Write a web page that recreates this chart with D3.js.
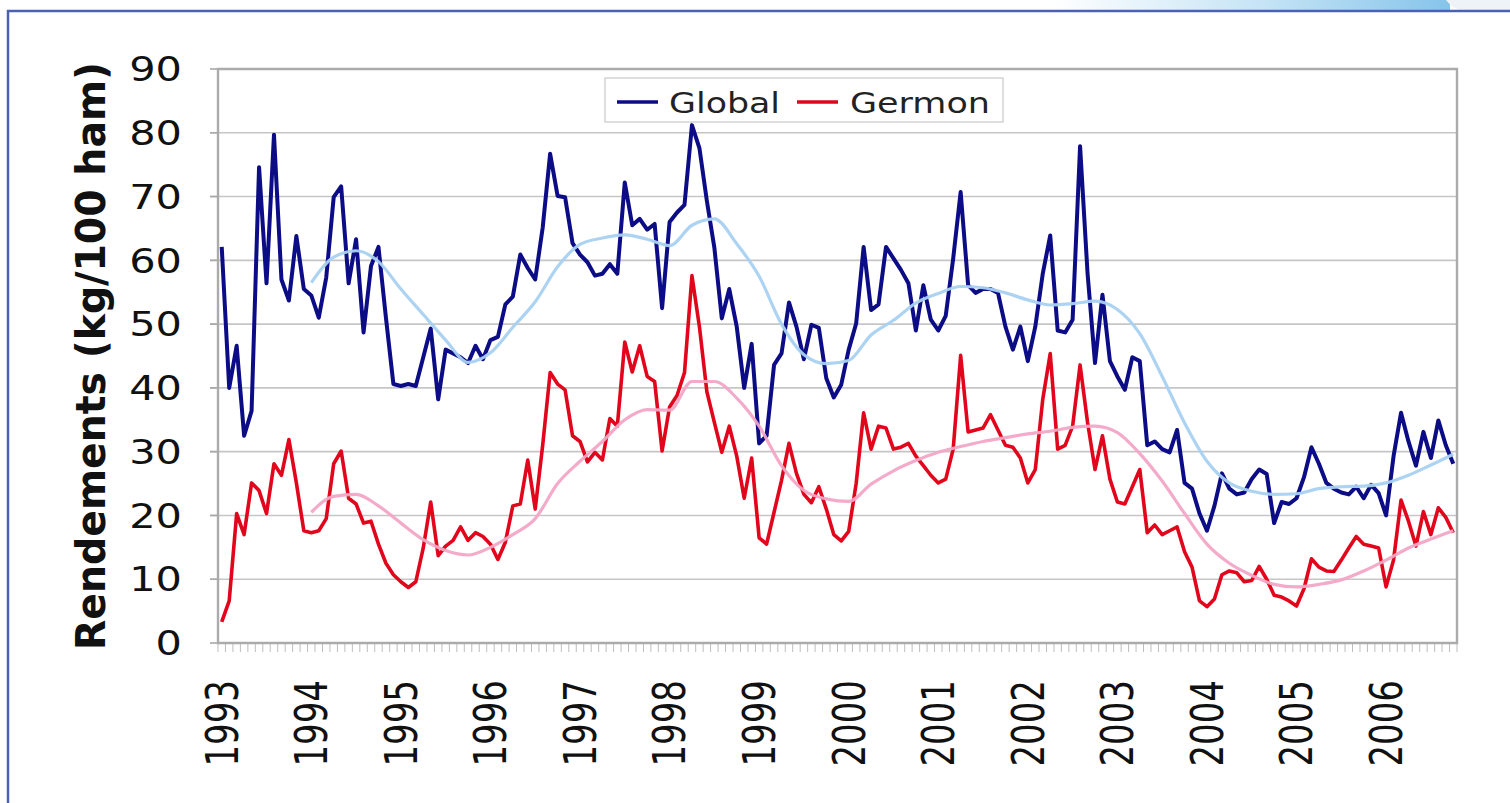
<!DOCTYPE html>
<meta charset="utf-8">
<head>
  <title>Rendements Global / Germon 1993-2006</title>
</head>

<style>
body {
  margin: 0;
  background: white;
}
svg {
  display: block;
}
text {
  font-family: "DejaVu Sans", Verdana, sans-serif;
  fill: #111;
}
</style>

<body>
<div id="chart"></div>

<script src="https://cdnjs.cloudflare.com/ajax/libs/d3/7.8.5/d3.min.js"></script>
<script>
// monthly values, Jan 1993 .. Oct 2006
var globalValues = [
  62.1, 40, 46.6, 32.5, 36.4, 74.6, 56.4, 79.7, 57, 53.7, 63.8, 55.5,
  54.5, 51, 57.3, 69.9, 71.6, 56.4, 63.3, 48.7, 59.1, 62.1, 51, 40.6,
  40.3, 40.6, 40.3, 44.8, 49.3, 38.2, 46, 45.4, 44.8, 43.9, 46.6, 44.5,
  47.5, 48, 53.1, 54.3, 60.9, 58.8, 57, 65.1, 76.7, 70.1, 69.9, 62.7,
  60.9, 59.7, 57.6, 57.9, 59.4, 57.9, 72.2, 65.5, 66.5, 64.8, 65.7, 52.5,
  66, 67.5, 68.7, 81.2, 77.6, 69.3, 62, 50.9, 55.5, 49.6, 40, 46.9,
  31.3, 32.5, 43.6, 45.4, 53.4, 49.6, 44.5, 49.9, 49.4, 41.5, 38.5, 40.5,
  46, 50.1, 62.1, 52.2, 53.1, 62.1, 60.3, 58.5, 56.4, 49, 56.1, 50.7,
  49, 51.3, 60.3, 70.7, 56.1, 54.9, 55.5, 55.5, 54.9, 49.6, 46, 49.6,
  44.2, 49.6, 57.9, 63.9, 49, 48.7, 50.7, 77.9, 58, 43.9, 54.6, 44.2,
  41.8, 39.7, 44.8, 44.2, 31, 31.6, 30.4, 29.9, 33.4, 25.1, 24.2, 20.3,
  17.6, 21.5, 26.6, 24.2, 23.3, 23.6, 25.7, 27.2, 26.5, 18.8, 22.1, 21.8,
  22.7, 26, 30.7, 28.1, 25.1, 24.2, 23.6, 23.3, 24.5, 22.7, 24.8, 23.5,
  20, 29.3, 36.1, 31.6, 27.8, 33.1, 29, 34.9, 31, 28.1
]

var germonValues = [
  3.3, 6.6, 20.3, 17, 25.1, 23.9, 20.3, 28.1, 26.3, 31.9, 25.1, 17.6,
  17.3, 17.6, 19.5, 28.1, 30.1, 22.7, 21.8, 18.8, 19.1, 15.5, 12.5, 10.7,
  9.6, 8.7, 9.6, 14.9, 22.1, 13.7, 15.2, 16.1, 18.2, 16.1, 17.3, 16.7,
  15.5, 13.1, 15.8, 21.5, 21.8, 28.7, 21, 31, 42.4, 40.6, 39.7, 32.5,
  31.6, 28.4, 29.9, 28.7, 35.2, 34, 47.2, 42.5, 46.6, 41.8, 41, 30.1,
  37, 38.8, 42.4, 57.6, 49.6, 39.4, 34.6, 29.9, 34, 29.3, 22.7, 29,
  16.5, 15.5, 20.5, 25.5, 31.3, 26.6, 23.3, 22, 24.5, 21, 17, 16,
  17.5, 25, 36.1, 30.4, 34, 33.7, 30.4, 30.7, 31.3, 29.3, 27.8, 26.3,
  25.1, 25.7, 30.4, 45.1, 33.1, 33.4, 33.7, 35.8, 33.4, 31, 30.7, 29,
  25.1, 27.2, 38.2, 45.4, 30.4, 31, 34, 43.6, 34.6, 27.2, 32.5, 25.7,
  22.1, 21.8, 24.5, 27.2, 17.3, 18.5, 17, 17.6, 18.2, 14.3, 11.9, 6.6,
  5.7, 6.9, 10.7, 11.3, 11, 9.6, 9.8, 12, 10, 7.5, 7.2, 6.6,
  5.8, 8.5, 13.2, 11.9, 11.3, 11.2, 13, 14.9, 16.7, 15.5, 15.2, 14.9,
  8.8, 13, 22.4, 19.1, 15.2, 20.6, 17, 21.2, 19.7, 17.3
]

// smoothed trends, read every 3 months from Jan 1994
var globalTrend = [
  56.5, 60.5, 61.5, 59.8, 55.5, 51.5, 47.5, 44, 45.5, 49.5, 53.5, 59,
  62.5, 63.5, 64, 63.3, 62.3, 65.5, 66.5, 62.6, 57.5, 50, 45.2, 43.8,
  44.3, 48.3, 50.6, 53.3, 54.8, 55.9, 55.7, 54.9, 53.8, 53, 53.2, 53.6,
  52.3, 48.5, 41.8, 34.5, 28.5, 25.1, 23.8, 23.3, 23.4, 24.2, 24.5, 24.6,
  25.1, 26.3, 27.9, 29.6
]
var germonTrend = [
  20.5, 23, 23.3, 21.5, 18.8, 16.2, 14.5, 13.8, 15, 17, 19.5, 25,
  28.5, 31.6, 35, 36.6, 36.5, 41, 41, 38.4, 34, 27.8, 23.9, 22.6,
  22.2, 24.9, 27, 28.6, 29.9, 30.8, 31.6, 32.2, 32.8, 33.2, 33.8, 34,
  33, 29.7, 25.4, 20.3, 15.5, 12.5, 10.6, 9.2, 8.8, 9.2, 9.9, 11.3,
  13, 14.9, 16.3, 17.6
]

var years = ["1993", "1994", "1995", "1996", "1997", "1998", "1999",
             "2000", "2001", "2002", "2003", "2004", "2005", "2006"]
var yTicks = [0, 10, 20, 30, 40, 50, 60, 70, 80, 90]
var seriesNames = ["Global", "Germon"]

var width = 1510, height = 803
var stretch = 1.27   // the picture is wider than it is tall, text too

var svg = d3.select("#chart").append("svg")
    .attr("width", width)
    .attr("height", height)

// top band + frame
var defs = svg.append("defs")
var grad = defs.append("linearGradient").attr("id", "band")
grad.append("stop").attr("offset", "0%").attr("stop-color", "#ffffff")
grad.append("stop").attr("offset", "55%").attr("stop-color", "#c3e3f5")
grad.append("stop").attr("offset", "100%").attr("stop-color", "#86c4ea")
svg.append("rect")
    .attr("x", 1050).attr("y", 0).attr("width", 400).attr("height", 11)
    .attr("fill", "url(#band)")
svg.append("path")
    .attr("d", "M1446,0 Q1452,8 1462,11 L1510,11 L1510,0 Z")
    .attr("fill", "#eef3f8")
svg.append("path")
    .attr("d", "M8,803 L8,11 L1510,11")
    .attr("fill", "none")
    .attr("stroke", "#4b61b6")
    .attr("stroke-width", 2.5)

var months = d3.range(globalValues.length)
var x = d3.scaleBand().domain(months).range([218, 1457])
var y = d3.scaleLinear().domain([0, 90]).range([643, 69])
var cx = function(m) { return x(m) + x.bandwidth() / 2 }

var plot = svg.append("g")

// gridlines
plot.selectAll(".grid")
    .data(yTicks.slice(1, -1))
    .enter().append("line")
    .attr("x1", 210).attr("x2", 1457)
    .attr("y1", function(d) { return y(d) })
    .attr("y2", function(d) { return y(d) })
    .attr("stroke", "#c6c6c6")
    .attr("stroke-width", 1.6)

// y ticks
plot.selectAll(".ytick")
    .data(yTicks)
    .enter().append("line")
    .attr("x1", 210).attr("x2", 218)
    .attr("y1", function(d) { return y(d) })
    .attr("y2", function(d) { return y(d) })
    .attr("stroke", "#a8a8a8")
    .attr("stroke-width", 1.6)

// month ticks under the axis
plot.selectAll(".xtick")
    .data(months.concat([months.length]))
    .enter().append("line")
    .attr("x1", function(m) { return 218 + m * x.bandwidth() })
    .attr("x2", function(m) { return 218 + m * x.bandwidth() })
    .attr("y1", 644).attr("y2", 652)
    .attr("stroke", "#bdbdbd")
    .attr("stroke-width", 1)

// plot border
plot.append("path")
    .attr("d", "M218," + y(0) + " L218," + y(90) + " L1457," + y(90) + " L1457," + y(0) + " Z")
    .attr("fill", "none")
    .attr("stroke", "#ababab")
    .attr("stroke-width", 2.4)

// y labels
svg.selectAll(".ylab")
    .data(yTicks)
    .enter().append("text")
    .attr("transform", function(d) { return "translate(182," + y(d) + ") scale(1.22,1)" })
    .attr("dy", "0.36em")
    .attr("text-anchor", "end")
    .style("font-size", "34px")
    .text(function(d) { return d })

// year labels
svg.selectAll(".xlab")
    .data(years)
    .enter().append("text")
    .attr("transform", function(d, i) { return "translate(" + cx(i * 12) + ",680) scale(1.3,1) rotate(-90)" })
    .attr("dy", "0.36em")
    .attr("text-anchor", "end")
    .style("font-size", "34px")
    .text(function(d) { return d })

// axis title
svg.append("text")
    .attr("transform", "translate(105,356) scale(" + stretch + ",1) rotate(-90)")
    .attr("text-anchor", "middle")
    .attr("textLength", 588)
    .attr("lengthAdjust", "spacingAndGlyphs")
    .style("font-size", "32px")
    .style("font-weight", "bold")
    .text("Rendements (kg/100 ham)")

// series
var line = d3.line()
    .x(function(d, i) { return cx(i) })
    .y(function(d) { return y(d) })

var trendLine = d3.line()
    .x(function(d, i) { return cx(12 + i * 3) })
    .y(function(d) { return y(d) })
    .curve(d3.curveMonotoneX)

plot.append("path")
    .datum(globalValues)
    .attr("d", line)
    .attr("fill", "none")
    .attr("stroke", "#0c0c86")
    .attr("stroke-width", 4)
    .attr("stroke-linejoin", "round")

plot.append("path")
    .datum(germonValues)
    .attr("d", line)
    .attr("fill", "none")
    .attr("stroke", "#e2061c")
    .attr("stroke-width", 3.6)
    .attr("stroke-linejoin", "round")

plot.append("path")
    .datum(globalTrend)
    .attr("d", trendLine)
    .attr("fill", "none")
    .attr("stroke", "#a9d1f2")
    .attr("stroke-width", 3.2)
    .attr("opacity", 0.95)

plot.append("path")
    .datum(germonTrend)
    .attr("d", trendLine)
    .attr("fill", "none")
    .attr("stroke", "#f3a5c6")
    .attr("stroke-width", 3.2)
    .attr("opacity", 0.95)

// legend
var legend = svg.append("g")
legend.append("rect")
    .attr("x", 605).attr("y", 78).attr("width", 398).attr("height", 44)
    .attr("fill", "white")
    .attr("stroke", "#c8c8c8")
    .attr("stroke-width", 1.2)

var legendItems = [
  {name: seriesNames[0], color: "#0c0c86", x0: 617, tx: 669, len: 111},
  {name: seriesNames[1], color: "#e2061c", x0: 797, tx: 850, len: 140}
]
legend.selectAll(".lline")
    .data(legendItems)
    .enter().append("line")
    .attr("x1", function(d) { return d.x0 })
    .attr("x2", function(d) { return d.x0 + 41 })
    .attr("y1", 102).attr("y2", 102)
    .attr("stroke", function(d) { return d.color })
    .attr("stroke-width", 3.5)
legend.selectAll(".ltext")
    .data(legendItems)
    .enter().append("text")
    .attr("x", function(d) { return d.tx })
    .attr("y", 113)
    .attr("textLength", function(d) { return d.len })
    .attr("lengthAdjust", "spacingAndGlyphs")
    .style("font-size", "29px")
    .style("fill", "#222")
    .text(function(d) { return d.name })
</script>
</body>
</html>
